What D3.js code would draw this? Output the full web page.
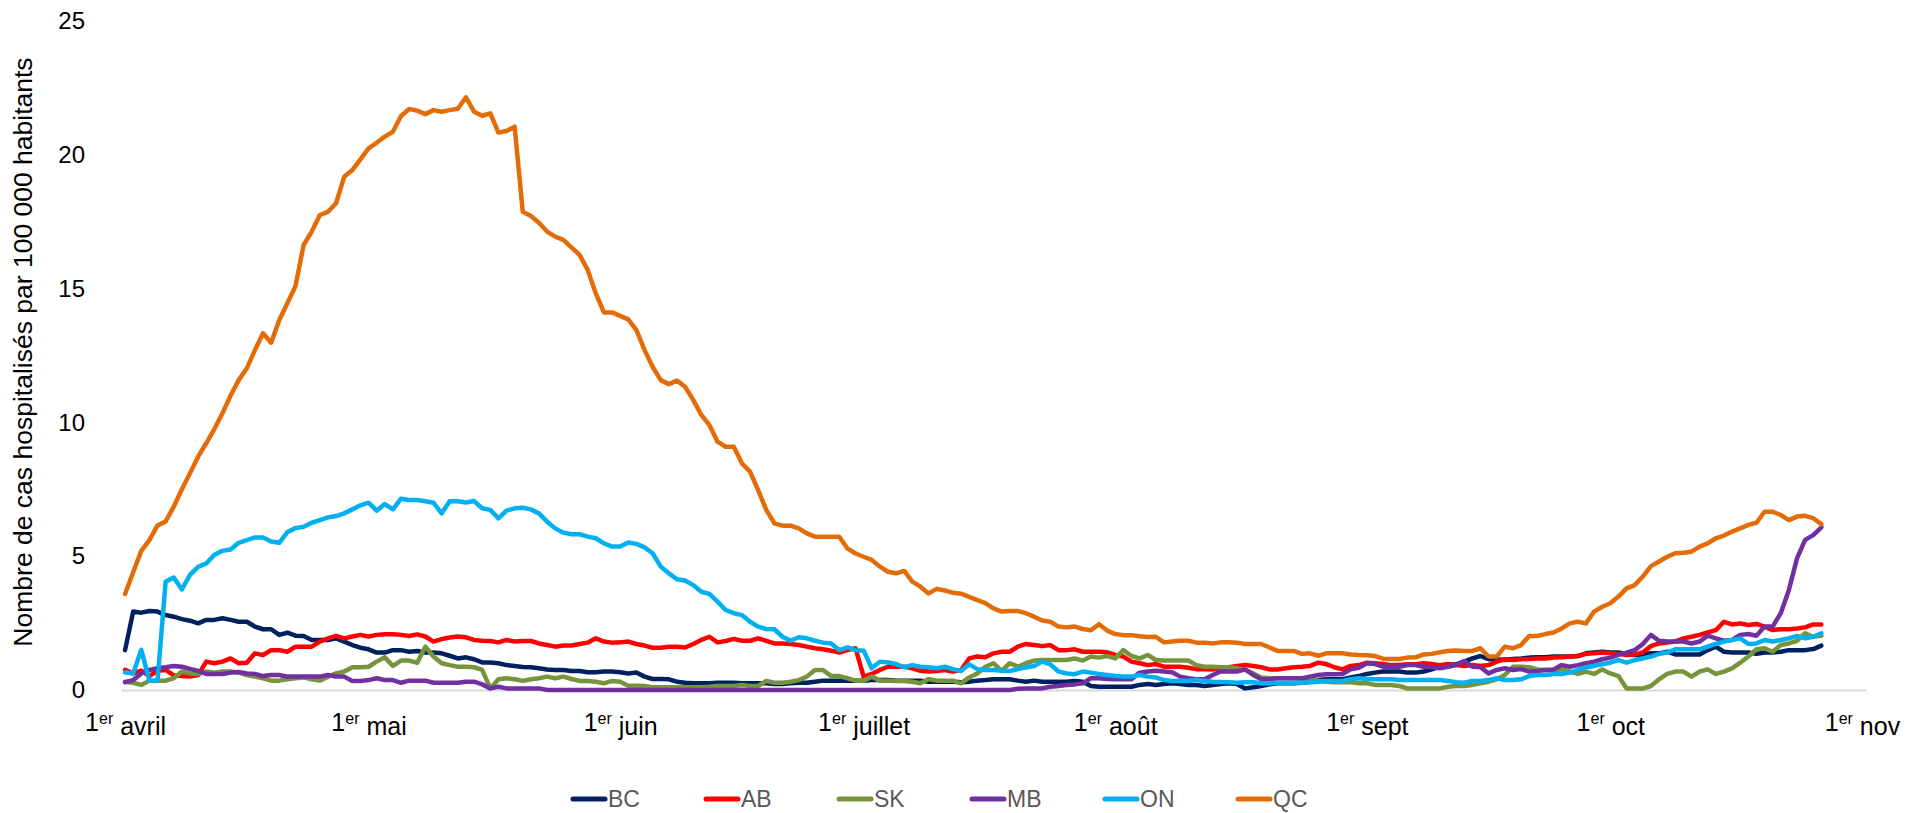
<!DOCTYPE html>
<html>
<head>
<meta charset="utf-8">
<script src="https://cdn.jsdelivr.net/npm/d3@7"></script>
<style>
  body { margin: 0; background: #fff; }
  svg { display: block; font-family: "Liberation Sans", Arial, sans-serif; }
</style>
</head>
<body>
<div id="chart"></div>
<script>
// Daily values, one per day from 1 April 2020
let startDate = new Date(2020, 3, 1);

let provinces = ["BC", "AB", "SK", "MB", "ON", "QC"];
let colors = ["#002060", "#ff0000", "#77933c", "#7030a0", "#00b0f0", "#e36c09"];

// x axis labels (first day of each month) and y ticks
let monthLabels = ["avril", "mai", "juin", "juillet", "août", "sept", "oct", "nov"];
let yTicks = [0, 5, 10, 15, 20, 25];

let bc = [
  1.49, 2.93, 2.89, 2.95, 2.93, 2.80, 2.74, 2.65, 2.59, 2.49,
  2.62, 2.62, 2.68, 2.62, 2.55, 2.55, 2.37, 2.27, 2.27, 2.06,
  2.14, 2.03, 2.02, 1.87, 1.87, 1.87, 1.93, 1.81, 1.68, 1.58,
  1.52, 1.40, 1.40, 1.49, 1.49, 1.43, 1.46, 1.40, 1.40, 1.37,
  1.28, 1.18, 1.22, 1.15, 1.03, 1.03, 1.00, 0.93, 0.90, 0.86,
  0.85, 0.81, 0.77, 0.75, 0.75, 0.71, 0.71, 0.66, 0.66, 0.69,
  0.69, 0.66, 0.62, 0.65, 0.50, 0.41, 0.41, 0.40, 0.31, 0.27,
  0.25, 0.25, 0.25, 0.27, 0.27, 0.27, 0.25, 0.25, 0.25, 0.25,
  0.22, 0.22, 0.25, 0.27, 0.27, 0.31, 0.35, 0.35, 0.35, 0.35,
  0.35, 0.35, 0.37, 0.37, 0.37, 0.35, 0.35, 0.35, 0.35, 0.31,
  0.31, 0.31, 0.31, 0.29, 0.31, 0.35, 0.37, 0.40, 0.40, 0.40,
  0.35, 0.31, 0.35, 0.31, 0.31, 0.31, 0.31, 0.34, 0.31, 0.15,
  0.12, 0.12, 0.12, 0.12, 0.12, 0.19, 0.22, 0.19, 0.22, 0.25,
  0.22, 0.19, 0.19, 0.15, 0.19, 0.22, 0.25, 0.22, 0.06, 0.10,
  0.15, 0.21, 0.25, 0.25, 0.25, 0.27, 0.31, 0.37, 0.40, 0.40,
  0.40, 0.47, 0.52, 0.60, 0.65, 0.69, 0.69, 0.69, 0.65, 0.65,
  0.69, 0.77, 0.87, 0.93, 0.96, 1.06, 1.18, 1.27, 1.15, 1.15,
  1.12, 1.16, 1.18, 1.21, 1.22, 1.22, 1.25, 1.25, 1.25, 1.27,
  1.37, 1.40, 1.43, 1.40, 1.40, 1.33, 1.31, 1.33, 1.37, 1.37,
  1.43, 1.33, 1.33, 1.33, 1.33, 1.49, 1.62, 1.43, 1.40, 1.40,
  1.40, 1.35, 1.40, 1.40, 1.43, 1.49, 1.49, 1.49, 1.53, 1.66
];

let ab = [
  0.75, 0.62, 0.72, 0.52, 0.72, 0.75, 0.55, 0.52, 0.50, 0.56,
  1.06, 1.00, 1.06, 1.18, 1.00, 1.02, 1.37, 1.31, 1.49, 1.49,
  1.43, 1.62, 1.62, 1.62, 1.81, 1.93, 2.02, 1.93, 2.00, 2.06,
  2.00, 2.06, 2.08, 2.08, 2.06, 2.02, 2.08, 2.00, 1.81, 1.90,
  1.96, 2.00, 1.97, 1.87, 1.84, 1.83, 1.78, 1.87, 1.81, 1.83,
  1.83, 1.74, 1.68, 1.62, 1.66, 1.66, 1.72, 1.77, 1.93, 1.81,
  1.77, 1.78, 1.81, 1.72, 1.66, 1.58, 1.58, 1.62, 1.62, 1.59,
  1.72, 1.87, 1.99, 1.78, 1.83, 1.91, 1.84, 1.84, 1.93, 1.84,
  1.74, 1.74, 1.72, 1.68, 1.62, 1.56, 1.52, 1.47, 1.40, 1.49,
  1.56, 0.50, 0.60, 0.75, 0.87, 0.87, 0.87, 0.81, 0.72, 0.69,
  0.71, 0.75, 0.69, 0.75, 1.18, 1.25, 1.22, 1.37, 1.43, 1.43,
  1.62, 1.72, 1.68, 1.64, 1.68, 1.49, 1.49, 1.52, 1.43, 1.43,
  1.43, 1.41, 1.31, 1.25, 1.06, 1.00, 0.93, 0.97, 0.87, 0.87,
  0.87, 0.83, 0.78, 0.78, 0.77, 0.81, 0.85, 0.90, 0.93, 0.90,
  0.85, 0.77, 0.77, 0.81, 0.85, 0.87, 0.90, 1.02, 0.97, 0.85,
  0.77, 0.90, 0.93, 1.02, 1.00, 0.97, 0.93, 0.93, 0.96, 0.96,
  1.00, 0.97, 0.93, 0.97, 0.93, 0.90, 0.93, 0.90, 0.93, 1.06,
  1.15, 1.12, 1.15, 1.16, 1.18, 1.18, 1.21, 1.22, 1.25, 1.27,
  1.35, 1.37, 1.40, 1.37, 1.35, 1.31, 1.33, 1.40, 1.64, 1.74,
  1.77, 1.81, 1.93, 1.99, 2.06, 2.15, 2.24, 2.55, 2.45, 2.49,
  2.43, 2.47, 2.37, 2.24, 2.27, 2.27, 2.30, 2.34, 2.45, 2.45
];

let sk = [
  0.31, 0.27, 0.19, 0.35, 0.35, 0.35, 0.44, 0.69, 0.62, 0.60,
  0.69, 0.65, 0.69, 0.69, 0.65, 0.56, 0.50, 0.44, 0.35, 0.35,
  0.40, 0.44, 0.47, 0.40, 0.35, 0.50, 0.62, 0.69, 0.85, 0.85,
  0.87, 1.06, 1.22, 0.90, 1.10, 1.10, 1.02, 1.62, 1.25, 1.00,
  0.93, 0.87, 0.87, 0.85, 0.75, 0.06, 0.40, 0.44, 0.40, 0.34,
  0.40, 0.44, 0.50, 0.44, 0.50, 0.41, 0.34, 0.34, 0.31, 0.25,
  0.34, 0.31, 0.16, 0.16, 0.15, 0.10, 0.10, 0.10, 0.10, 0.10,
  0.10, 0.10, 0.12, 0.15, 0.15, 0.15, 0.19, 0.15, 0.15, 0.34,
  0.27, 0.27, 0.31, 0.37, 0.50, 0.75, 0.75, 0.52, 0.52, 0.44,
  0.35, 0.35, 0.50, 0.35, 0.35, 0.34, 0.34, 0.31, 0.25, 0.41,
  0.35, 0.35, 0.35, 0.25, 0.47, 0.62, 0.87, 1.00, 0.71, 1.00,
  0.87, 1.00, 1.10, 1.12, 1.12, 1.12, 1.12, 1.18, 1.10, 1.25,
  1.21, 1.27, 1.18, 1.49, 1.27, 1.18, 1.31, 1.12, 1.10, 1.10,
  1.10, 1.10, 0.93, 0.87, 0.87, 0.85, 0.85, 0.81, 0.75, 0.62,
  0.47, 0.44, 0.44, 0.44, 0.44, 0.44, 0.40, 0.35, 0.31, 0.29,
  0.29, 0.29, 0.25, 0.25, 0.19, 0.19, 0.19, 0.15, 0.06, 0.06,
  0.06, 0.06, 0.06, 0.12, 0.15, 0.15, 0.19, 0.25, 0.31, 0.40,
  0.56, 0.87, 0.87, 0.85, 0.77, 0.75, 0.71, 0.77, 0.69, 0.60,
  0.69, 0.60, 0.77, 0.62, 0.52, 0.06, 0.06, 0.06, 0.15, 0.40,
  0.60, 0.69, 0.69, 0.50, 0.69, 0.77, 0.60, 0.69, 0.81, 1.02,
  1.25, 1.52, 1.56, 1.43, 1.68, 1.74, 1.84, 2.12, 1.99, 2.03
];

let mb = [
  0.29, 0.37, 0.62, 0.75, 0.81, 0.85, 0.90, 0.87, 0.79, 0.71,
  0.60, 0.60, 0.60, 0.65, 0.67, 0.62, 0.60, 0.52, 0.56, 0.56,
  0.50, 0.50, 0.50, 0.50, 0.50, 0.56, 0.50, 0.50, 0.34, 0.34,
  0.37, 0.44, 0.37, 0.37, 0.27, 0.35, 0.35, 0.35, 0.27, 0.27,
  0.27, 0.27, 0.31, 0.31, 0.21, 0.06, 0.12, 0.06, 0.06, 0.06,
  0.06, 0.06, 0, 0, 0, 0, 0, 0, 0, 0,
  0, 0, 0, 0, 0, 0, 0, 0, 0, 0,
  0, 0, 0, 0, 0, 0, 0, 0, 0, 0,
  0, 0, 0, 0, 0, 0, 0, 0, 0, 0,
  0, 0, 0, 0, 0, 0, 0, 0, 0, 0,
  0, 0, 0, 0, 0, 0, 0, 0, 0, 0,
  0.05, 0.06, 0.06, 0.06, 0.12, 0.15, 0.19, 0.21, 0.25, 0.44,
  0.44, 0.41, 0.40, 0.40, 0.40, 0.65, 0.69, 0.72, 0.69, 0.66,
  0.50, 0.44, 0.40, 0.40, 0.56, 0.69, 0.69, 0.69, 0.77, 0.56,
  0.40, 0.40, 0.44, 0.44, 0.44, 0.44, 0.50, 0.56, 0.59, 0.59,
  0.60, 0.77, 0.83, 1.00, 0.97, 0.87, 0.87, 0.87, 0.93, 0.93,
  0.87, 0.85, 0.81, 0.87, 0.93, 1.08, 0.87, 0.85, 0.62, 0.75,
  0.81, 0.75, 0.78, 0.69, 0.71, 0.75, 0.77, 0.93, 0.87, 0.93,
  1.00, 1.06, 1.15, 1.21, 1.31, 1.40, 1.49, 1.72, 2.06, 1.84,
  1.81, 1.81, 1.81, 1.74, 1.81, 2.03, 1.93, 1.84, 1.87, 2.06,
  2.09, 2.03, 2.37, 2.37, 2.87, 3.74, 4.92, 5.61, 5.79, 6.08
];

let on = [
  0.66, 0.62, 1.50, 0.35, 0.35, 4.05, 4.20, 3.76, 4.30, 4.60,
  4.73, 5.05, 5.20, 5.25, 5.50, 5.60, 5.70, 5.70, 5.55, 5.50,
  5.90, 6.05, 6.10, 6.25, 6.35, 6.45, 6.50, 6.60, 6.75, 6.90,
  7.00, 6.70, 6.95, 6.75, 7.15, 7.10, 7.10, 7.05, 7.00, 6.60,
  7.05, 7.05, 7.01, 7.06, 6.79, 6.73, 6.41, 6.70, 6.79, 6.81,
  6.75, 6.60, 6.29, 6.04, 5.88, 5.82, 5.82, 5.73, 5.67, 5.48,
  5.36, 5.36, 5.51, 5.46, 5.33, 5.11, 4.61, 4.36, 4.14, 4.09,
  3.92, 3.67, 3.59, 3.30, 2.99, 2.87, 2.80, 2.55, 2.37, 2.28,
  2.27, 1.99, 1.84, 1.97, 1.93, 1.84, 1.77, 1.74, 1.49, 1.59,
  1.49, 1.47, 0.81, 1.06, 1.03, 0.97, 0.85, 0.93, 0.87, 0.85,
  0.81, 0.87, 0.78, 0.71, 0.96, 0.78, 0.75, 0.75, 0.72, 0.71,
  0.78, 0.85, 0.90, 1.06, 0.96, 0.69, 0.62, 0.59, 0.69, 0.65,
  0.60, 0.56, 0.52, 0.50, 0.50, 0.56, 0.50, 0.47, 0.37, 0.34,
  0.35, 0.34, 0.37, 0.34, 0.31, 0.30, 0.29, 0.27, 0.29, 0.29,
  0.25, 0.25, 0.27, 0.27, 0.27, 0.27, 0.29, 0.31, 0.34, 0.34,
  0.34, 0.40, 0.44, 0.41, 0.40, 0.40, 0.40, 0.37, 0.37, 0.37,
  0.37, 0.37, 0.37, 0.34, 0.29, 0.27, 0.34, 0.34, 0.37, 0.44,
  0.37, 0.37, 0.40, 0.52, 0.56, 0.56, 0.60, 0.60, 0.65, 0.75,
  0.85, 0.90, 0.96, 1.02, 1.12, 1.02, 1.12, 1.18, 1.25, 1.35,
  1.40, 1.52, 1.52, 1.52, 1.52, 1.62, 1.72, 1.81, 1.87, 1.93,
  1.72, 1.74, 1.87, 1.81, 1.87, 1.93, 2.02, 1.93, 1.99, 2.12
];

let qc = [
  3.59, 4.40, 5.20, 5.60, 6.15, 6.30, 6.85, 7.50, 8.10, 8.72,
  9.22, 9.75, 10.34, 11.00, 11.58, 12.02, 12.70, 13.33, 12.98, 13.83,
  14.45, 15.10, 16.63, 17.13, 17.75, 17.87, 18.19, 19.18, 19.43, 19.83,
  20.24, 20.45, 20.68, 20.86, 21.45, 21.71, 21.65, 21.52, 21.67, 21.61,
  21.67, 21.72, 22.15, 21.61, 21.46, 21.55, 20.83, 20.89, 21.05, 17.87,
  17.71, 17.46, 17.13, 16.94, 16.82, 16.54, 16.26, 15.70, 14.82, 14.11,
  14.11, 13.98, 13.85, 13.45, 12.71, 12.08, 11.58, 11.43, 11.56, 11.33,
  10.84, 10.28, 9.90, 9.28, 9.09, 9.09, 8.47, 8.16, 7.47, 6.73,
  6.23, 6.14, 6.14, 6.04, 5.85, 5.73, 5.73, 5.73, 5.73, 5.29,
  5.10, 4.98, 4.86, 4.61, 4.42, 4.36, 4.45, 4.05, 3.86, 3.61,
  3.78, 3.72, 3.63, 3.60, 3.48, 3.36, 3.25, 3.05, 2.93, 2.95,
  2.95, 2.87, 2.74, 2.60, 2.55, 2.37, 2.34, 2.37, 2.28, 2.23,
  2.46, 2.22, 2.09, 2.05, 2.05, 2.01, 1.98, 1.99, 1.78, 1.81,
  1.84, 1.84, 1.77, 1.77, 1.74, 1.78, 1.78, 1.77, 1.72, 1.72,
  1.72, 1.59, 1.46, 1.46, 1.46, 1.35, 1.37, 1.28, 1.37, 1.37,
  1.37, 1.33, 1.31, 1.30, 1.27, 1.17, 1.16, 1.16, 1.21, 1.22,
  1.33, 1.35, 1.41, 1.46, 1.48, 1.46, 1.46, 1.56, 1.25, 1.25,
  1.62, 1.56, 1.68, 2.02, 2.02, 2.09, 2.15, 2.30, 2.49, 2.55,
  2.49, 2.93, 3.11, 3.24, 3.49, 3.80, 3.92, 4.24, 4.63, 4.80,
  4.98, 5.11, 5.13, 5.17, 5.36, 5.48, 5.67, 5.77, 5.92, 6.04,
  6.17, 6.25, 6.66, 6.66, 6.54, 6.35, 6.48, 6.51, 6.42, 6.20
];

let seriesValues = [bc, ab, sk, mb, on, qc];

// one date per value
let dates = bc.map((d, i) => d3.timeDay.offset(startDate, i));
let monthStarts = d3.timeMonth.range(new Date(2020, 3, 1), new Date(2020, 10, 2));

let width = 1915, height = 813;

let svg = d3.select("#chart")
  .append("svg")
  .attr("width", width)
  .attr("height", height);

svg.append("rect")
  .attr("width", width)
  .attr("height", height)
  .attr("fill", "#fff");

// date axis: each day sits in the middle of its slot
let x = d3.scaleTime()
  .domain([d3.timeHour.offset(startDate, -12), d3.timeHour.offset(new Date(2020, 10, 1), 12)])
  .range([121, 1866]);

let y = d3.scaleLinear()
  .domain([0, 25])
  .range([690, 21]);

// X AXIS
let xAxis = svg.append("g")
  .attr("transform", `translate(0,${y(0)})`)
  .call(d3.axisBottom(x)
    .tickValues(monthStarts)
    .tickSize(0)
    .tickSizeOuter(0)
    .tickFormat(""));

xAxis.select(".domain")
  .attr("stroke", "#d9d9d9")
  .attr("stroke-width", 2);

// labels "1er mois" with superscript
xAxis.selectAll(".tick text")
  .attr("y", 41)
  .attr("dy", null)
  .attr("fill", "#000")
  .style("font-size", "25px")
  .each(function (d, i) {
    let t = d3.select(this);
    t.append("tspan").text("1");
    t.append("tspan").text("er").attr("dy", "-0.45em").style("font-size", "16px");
    t.append("tspan").text(" " + monthLabels[i]).attr("dy", "0.45em");
  });

// Y AXIS
let yAxis = svg.append("g")
  .attr("transform", `translate(${x.range()[0]},0)`)
  .call(d3.axisLeft(y)
    .tickValues(yTicks)
    .tickSize(0)
    .tickPadding(36));

yAxis.select(".domain").remove();
yAxis.selectAll(".tick text")
  .attr("fill", "#000")
  .style("font-size", "24px");

// y axis title
svg.append("text")
  .attr("transform", "translate(32,352) rotate(-90)")
  .attr("text-anchor", "middle")
  .style("font-size", "26.5px")
  .attr("fill", "#000")
  .text("Nombre de cas hospitalisés par 100 000 habitants");

// LINES
let line = d3.line()
  .x((d, i) => x(dates[i]))
  .y(d => y(d));

svg.selectAll(".series")
  .data(seriesValues)
  .join("path")
  .attr("class", "series")
  .attr("d", d => line(d))
  .attr("fill", "none")
  .attr("stroke", (d, i) => colors[i])
  .attr("stroke-width", 4.5)
  .attr("stroke-linejoin", "round")
  .attr("stroke-linecap", "round");

// LEGEND
let legend = svg.selectAll(".legend")
  .data(provinces)
  .join("g")
  .attr("class", "legend")
  .attr("transform", (d, i) => `translate(${573 + i * 133},799)`);

legend.append("line")
  .attr("x1", 0)
  .attr("x2", 32)
  .attr("stroke", (d, i) => colors[i])
  .attr("stroke-width", 5)
  .attr("stroke-linecap", "round");

legend.append("text")
  .attr("x", 35)
  .attr("dy", "0.35em")
  .style("font-size", "23px")
  .attr("fill", "#595959")
  .text(d => d);
</script>
</body>
</html>
